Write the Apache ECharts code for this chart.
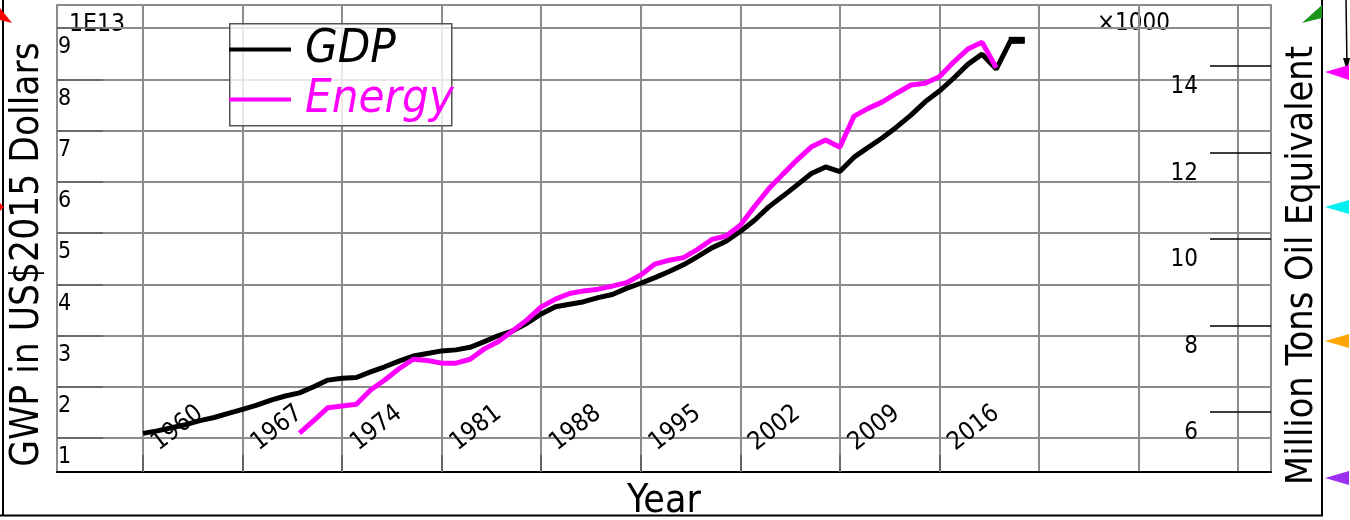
<!DOCTYPE html>
<html>
<head>
<meta charset="utf-8">
<script src="https://cdn.jsdelivr.net/npm/echarts@6/dist/echarts.min.js"></script>
<style>
    html, body {margin: 0; padding: 0; background: #fff;}
    #chart {width: 1350px; height: 520px;}
</style>
</head>
<body>
<div id="chart"></div>
<script>
// GDP 年份与数值 (单位 1E13 US$2015)
const gdpYears = [1960, 1961, 1962, 1963, 1964, 1965, 1966, 1967, 1968, 1969,
    1970, 1971, 1972, 1973, 1974, 1975, 1976, 1977, 1978, 1979,
    1980, 1981, 1982, 1983, 1984, 1985, 1986, 1987, 1988, 1989,
    1990, 1991, 1992, 1993, 1994, 1995, 1996, 1997, 1998, 1999,
    2000, 2001, 2002, 2003, 2004, 2005, 2006, 2007, 2008, 2009,
    2010, 2011, 2012, 2013, 2014, 2015, 2016, 2017, 2018, 2019,
    2020, 2021, 2022];
const gdpValues = [1.09, 1.14, 1.20, 1.26, 1.34, 1.40, 1.48, 1.56, 1.64, 1.74,
    1.82, 1.88, 2.00, 2.13, 2.165, 2.18, 2.29, 2.39, 2.50, 2.60,
    2.65, 2.70, 2.72, 2.77, 2.88, 3.00, 3.09, 3.24, 3.42, 3.56,
    3.61, 3.66, 3.74, 3.80, 3.92, 4.02, 4.13, 4.25, 4.38, 4.54,
    4.71, 4.84, 5.03, 5.25, 5.51, 5.72, 5.94, 6.16, 6.29, 6.20,
    6.48, 6.67, 6.86, 7.07, 7.30, 7.56, 7.77, 8.02, 8.29, 8.49,
    8.20, 8.75, 8.76];

// 能源 年份与数值 (单位 x1000 百万吨油当量)
const energyYears = [1971, 1972, 1973, 1974, 1975, 1976, 1977, 1978, 1979,
    1980, 1981, 1982, 1983, 1984, 1985, 1986, 1987, 1988, 1989,
    1990, 1991, 1992, 1993, 1994, 1995, 1996, 1997, 1998, 1999,
    2000, 2001, 2002, 2003, 2004, 2005, 2006, 2007, 2008, 2009,
    2010, 2011, 2012, 2013, 2014, 2015, 2016, 2017, 2018, 2019,
    2020];
const energyValues = [5.51, 5.80, 6.10, 6.14, 6.18, 6.51, 6.74, 7.00, 7.22,
    7.19, 7.13, 7.13, 7.22, 7.46, 7.63, 7.88, 8.13, 8.43, 8.61,
    8.74, 8.80, 8.84, 8.91, 8.99, 9.17, 9.42, 9.51, 9.57, 9.76,
    9.99, 10.07, 10.32, 10.75, 11.16, 11.50, 11.83, 12.13, 12.29, 12.12,
    12.84, 13.02, 13.17, 13.37, 13.56, 13.60, 13.75, 14.09, 14.39, 14.55,
    13.96];

// 刻度
const yearLabels = [1960, 1967, 1974, 1981, 1988, 1995, 2002, 2009, 2016];
const yearGridLines = [1960, 1967, 1974, 1981, 1988, 1995, 2002, 2009, 2016, 2023, 2030, 2037];
const gdpTicks = [1, 2, 3, 4, 5, 6, 7, 8, 9];
const energyTicks = [6, 8, 10, 12, 14];

const FONT = "'DejaVu Sans Condensed', 'DejaVu Sans', sans-serif";
const GRID_COLOR = '#8c8c8c';

const chart = echarts.init(document.getElementById('chart'), null, {renderer: 'canvas'});

const gdpData = gdpYears.map((y, i) => [y, gdpValues[i]]);
const energyData = energyYears.map((y, i) => [y, energyValues[i]]);
// 最后一个点画成方块
gdpData[gdpData.length - 1] = {
    value: gdpData[gdpData.length - 1],
    symbol: 'rect',
    symbolSize: [16, 7],
    symbolOffset: [-8, 0],
    itemStyle: {color: '#000'}
};

const xMin = 1953.95, xMax = 2039.32;

const tri = (pts, color) => ({
    type: 'polygon', shape: {points: pts}, style: {fill: color}, silent: true
});
const seg = (x1, y1, x2, y2, w) => ({
    type: 'line', shape: {x1, y1, x2, y2}, style: {stroke: '#000', lineWidth: w || 2}, silent: true
});

const option = {
    animation: false,
    backgroundColor: '#fff',
    textStyle: {fontFamily: FONT},
    grid: {
        left: 57, top: 5, right: 79, bottom: 48,
        show: true, borderColor: GRID_COLOR, borderWidth: 2,
        outerBoundsMode: 'none'
    },
    legend: {
        orient: 'vertical', left: 229, top: 26, padding: 0, itemGap: 3,
        itemWidth: 62, itemHeight: 4, icon: 'rect', selectedMode: false,
        textStyle: {fontSize: 47, fontStyle: 'italic', fontFamily: FONT, padding: [0, 0, 0, 9]},
        data: [
            {name: 'GDP', textStyle: {color: '#000'}},
            {name: 'Energy', textStyle: {color: '#ff00ff'}}
        ]
    },
    xAxis: [
        {
            type: 'value', position: 'bottom', min: xMin, max: xMax,
            axisLine: {show: true, lineStyle: {color: '#000', width: 2}},
            axisTick: {show: false, customValues: yearGridLines},
            axisLabel: {show: false},
            splitLine: {show: true, lineStyle: {color: GRID_COLOR, width: 2}},
            name: 'Year', nameLocation: 'middle', nameGap: 10,
            nameTextStyle: {fontSize: 39, fontFamily: FONT, color: '#000'}
        },
        {
            type: 'value', position: 'bottom', min: xMin, max: xMax,
            axisLine: {show: false},
            axisTick: {show: true, inside: true, length: 17, customValues: yearLabels,
                lineStyle: {color: '#666', width: 2}},
            axisLabel: {show: true, inside: true, rotate: 38, margin: 17, customValues: yearLabels,
                padding: [0, 0, 0, 15],
                fontSize: 25, fontFamily: FONT, color: '#000', formatter: v => String(v)},
            splitLine: {show: false}
        }
    ],
    yAxis: [
        {
            type: 'value', position: 'left', min: 0.337, max: 9.449,
            axisLine: {show: false},
            axisTick: {show: true, inside: true, length: 46, customValues: gdpTicks,
                lineStyle: {color: '#6a6a6a', width: 2}},
            axisLabel: {inside: true, margin: 1, customValues: gdpTicks, verticalAlign: 'top',
                padding: [8, 0, 0, 0], fontSize: 23, fontFamily: FONT, color: '#000'},
            splitLine: {show: true, lineStyle: {color: GRID_COLOR, width: 2}},
            name: 'GWP in US$2015 Dollars', nameLocation: 'middle', nameRotate: 90, nameGap: -3,
            nameTextStyle: {fontSize: 38.5, fontFamily: FONT, color: '#000', padding: [0, 32, 0, 0]}
        },
        {
            type: 'value', position: 'right', min: 4.613, max: 15.41,
            axisLine: {show: false},
            axisTick: {show: true, inside: true, length: 61, customValues: energyTicks,
                lineStyle: {color: '#000', width: 1.5}},
            axisLabel: {inside: true, margin: 73, customValues: energyTicks, verticalAlign: 'top',
                padding: [9, 0, 0, 0], fontSize: 24, fontFamily: FONT, color: '#000'},
            splitLine: {show: false},
            name: 'Million Tons Oil Equivalent', nameLocation: 'middle', nameRotate: 90, nameGap: 12,
            nameTextStyle: {fontSize: 37.5, fontFamily: FONT, color: '#000', padding: [0, 54, 0, 0]}
        }
    ],
    series: [
        {
            name: 'GDP', type: 'line', xAxisIndex: 0, yAxisIndex: 0,
            data: gdpData, symbol: 'none', showSymbol: true,
            lineStyle: {color: '#000', width: 5}, itemStyle: {color: '#000'}
        },
        {
            name: 'Energy', type: 'line', xAxisIndex: 0, yAxisIndex: 1,
            data: energyData, symbol: 'none',
            lineStyle: {color: '#ff00ff', width: 5}, itemStyle: {color: '#ff00ff'}
        }
    ],
    graphic: [
        // 图例框
        {type: 'rect', left: 229, top: 23, z: 3, shape: {width: 222, height: 102},
            style: {fill: 'rgba(255,255,255,0.8)', stroke: '#555', lineWidth: 1.5}},
        {type: 'text', left: 69, top: 12, z: -1, style: {text: '1E13', font: '24.5px ' + FONT, fill: '#000'}},
        {type: 'text', left: 1097, top: 12, z: -1, style: {text: '×1000', font: '24px ' + FONT, fill: '#000'}},
        // 外框
        seg(3, 0, 3, 516, 2),
        seg(0, 515.5, 1323, 515.5, 2),
        seg(1322, 0, 1322, 516, 2),
        seg(1346, 0, 1347, 66, 1.5),
        tri([[1343, 58], [1350, 58], [1347, 71]], '#000'),
        // 彩色标记
        tri([[1302, 23], [1322, 5], [1322, 18]], '#1a961a'),
        tri([[1325, 72], [1349, 65], [1349, 80]], '#ff00ff'),
        tri([[1325, 207], [1349, 200], [1349, 214]], '#00f0f0'),
        tri([[1325, 341], [1349, 334], [1349, 348]], '#ffa500'),
        tri([[1325, 478], [1349, 471], [1349, 485]], '#9b30f0'),
        tri([[0, 8], [12, 23], [0, 20]], '#f00'),
        tri([[0, 203], [4, 207], [0, 211]], '#f00')
    ]
};

chart.setOption(option);
</script>
</body>
</html>
